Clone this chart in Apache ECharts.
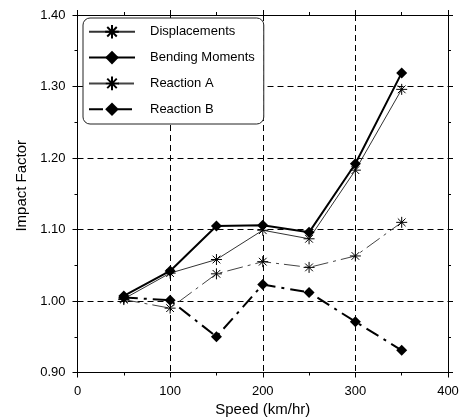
<!DOCTYPE html>
<html>
<head>
<meta charset="utf-8">
<script src="https://cdn.jsdelivr.net/npm/echarts@6/dist/echarts.min.js"></script>
<style>
  html, body { margin: 0; padding: 0; background: #fff; }
  #chart { width: 459px; height: 419px; }
</style>
</head>
<body>
<div id="chart"></div>
<script>
// Speed (km/hr) at which each impact factor was evaluated
const speeds = [50, 100, 150, 200, 250, 300, 350];

// Impact factors per response quantity
const displacements  = [1.003, 1.039, 1.058, 1.099, 1.087, 1.183, 1.296];
const bendingMoments = [1.007, 1.042, 1.105, 1.106, 1.096, 1.192, 1.319];
const reactionA      = [1.002, 0.990, 1.038, 1.055, 1.047, 1.063, 1.110];
const reactionB      = [1.005, 1.001, 0.950, 1.023, 1.012, 0.971, 0.931];

const seriesNames = ['Displacements', 'Bending Moments', 'Reaction A', 'Reaction B'];

// Axis ranges and steps
const xRange = { min: 0, max: 400, step: 100 };
const yRange = { min: 0.9, max: 1.4, step: 0.1 };

const FONT = '"Liberation Sans", Arial, sans-serif';

// Eight-armed asterisk drawn as stroked strokes
const ASTERISK = 'path://M0 5 L10 5 M5 0 L5 10 M1.5 1.5 L8.5 8.5 M8.5 1.5 L1.5 8.5';

const pairs = (ys) => speeds.map((s, i) => [s, ys[i]]);

const gridDash = { color: '#000', width: 1, type: [6, 4] };

function axisBase(extra) {
  return Object.assign({
    type: 'value',
    axisLine: { show: true, onZero: false, lineStyle: { color: '#000', width: 1 } },
    axisTick: { show: true, inside: false, length: 5, lineStyle: { color: '#000', width: 1 } },
    minorTick: { show: true, splitNumber: 2, length: 3, lineStyle: { color: '#000', width: 1 } },
    splitLine: { show: false },
    axisLabel: { show: false }
  }, extra);
}

const chart = echarts.init(document.getElementById('chart'), null, { renderer: 'canvas' });

chart.setOption({
  animation: false,
  backgroundColor: '#fff',
  textStyle: { fontFamily: FONT },
  grid: {
    left: 77.5, right: 11, top: 15, bottom: 46.5,
    containLabel: false,
    outerBoundsMode: 'none'
  },
  legend: {
    orient: 'vertical',
    left: 83,
    top: 18,
    data: seriesNames,
    itemWidth: 46,
    itemHeight: 17,
    itemGap: 11.2,
    padding: [6, 9, 8, 5],
    backgroundColor: '#fff',
    borderColor: '#222',
    borderWidth: 1,
    borderRadius: 7,
    textStyle: { fontFamily: FONT, fontSize: 13, color: '#000', padding: [0, 0, 0, 10] }
  },
  xAxis: [
    axisBase({
      position: 'bottom',
      min: xRange.min, max: xRange.max, interval: xRange.step,
      splitLine: { show: true, lineStyle: gridDash },
      axisLabel: { show: true, color: '#000', fontSize: 13, fontFamily: FONT, margin: 12 },
      name: 'Speed (km/hr)',
      nameLocation: 'middle',
      nameGap: 29,
      nameTextStyle: { color: '#000', fontSize: 15, fontFamily: FONT }
    }),
    axisBase({
      position: 'top',
      min: xRange.min, max: xRange.max, interval: xRange.step
    })
  ],
  yAxis: [
    axisBase({
      position: 'left',
      min: yRange.min, max: yRange.max, interval: yRange.step,
      splitLine: { show: true, lineStyle: gridDash },
      axisLabel: {
        show: true, color: '#000', fontSize: 13, fontFamily: FONT, margin: 12,
        formatter: (v) => v.toFixed(2)
      },
      name: 'Impact Factor',
      nameLocation: 'middle',
      nameGap: 48,
      nameTextStyle: { color: '#000', fontSize: 15, fontFamily: FONT, padding: [0, 0, 0, 16] }
    }),
    axisBase({
      position: 'right',
      min: yRange.min, max: yRange.max, interval: yRange.step
    })
  ],
  series: [
    {
      name: seriesNames[0],
      type: 'line',
      data: pairs(displacements),
      symbol: ASTERISK,
      symbolSize: 11,
      lineStyle: { color: '#333', width: 1, type: 'solid' },
      itemStyle: { color: '#000', borderColor: '#000', borderWidth: 1 },
      z: 3
    },
    {
      name: seriesNames[1],
      type: 'line',
      data: pairs(bendingMoments),
      symbol: 'diamond',
      symbolSize: 11,
      lineStyle: { color: '#000', width: 2, type: 'solid' },
      itemStyle: { color: '#000', borderColor: '#000', borderWidth: 0 },
      z: 4
    },
    {
      name: seriesNames[2],
      type: 'line',
      data: pairs(reactionA),
      symbol: ASTERISK,
      symbolSize: 11,
      lineStyle: { color: '#444', width: 1, type: [16, 5, 3, 5] },
      itemStyle: { color: '#000', borderColor: '#000', borderWidth: 1 },
      z: 3
    },
    {
      name: seriesNames[3],
      type: 'line',
      data: pairs(reactionB),
      symbol: 'diamond',
      symbolSize: 11,
      lineStyle: { color: '#000', width: 2, type: [14, 6, 3, 6] },
      itemStyle: { color: '#000', borderColor: '#000', borderWidth: 0 },
      z: 4
    }
  ]
});
</script>
</body>
</html>
